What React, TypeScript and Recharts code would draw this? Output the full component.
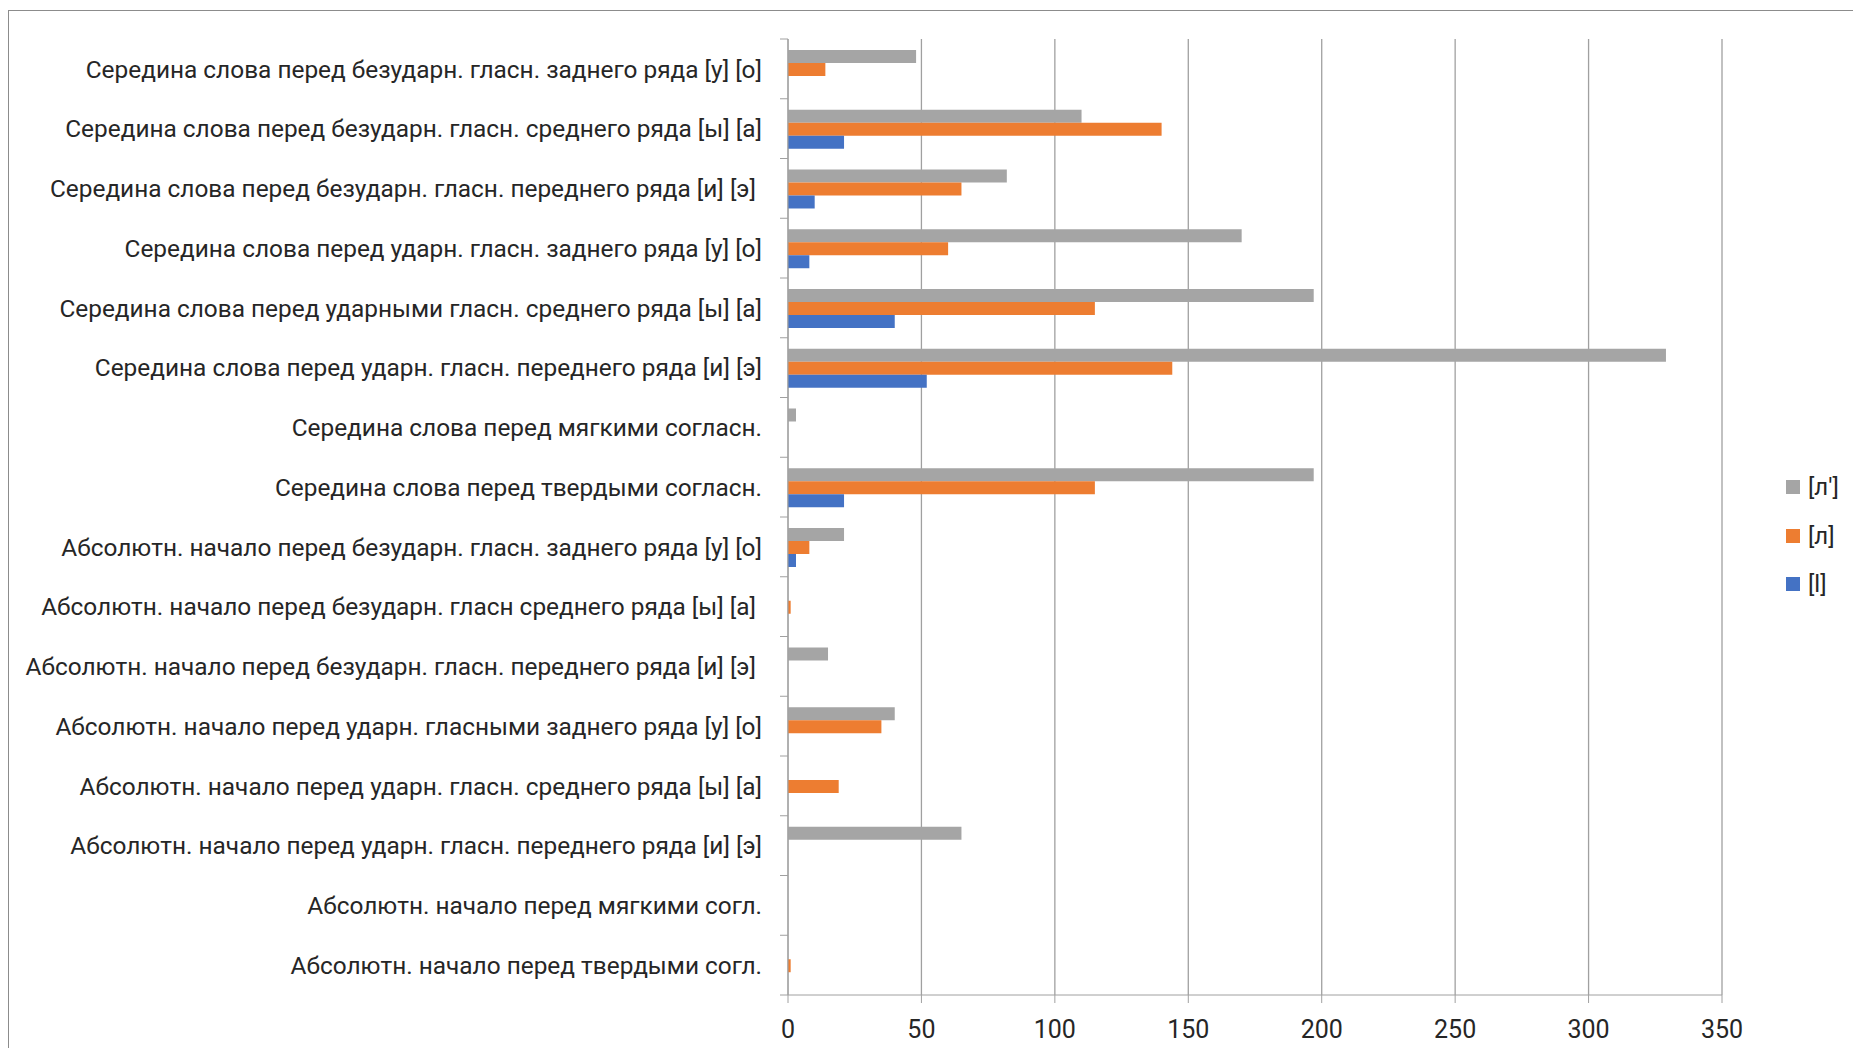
import * as React from "react";
import {
  BarChart,
  Bar,
  XAxis,
  YAxis,
  CartesianGrid,
  Legend,
} from "recharts";

// categories, top to bottom as drawn
const categories = [
  "Середина слова перед безударн. гласн. заднего ряда [у] [о]",
  "Середина слова перед безударн. гласн. среднего ряда [ы] [а]",
  "Середина слова перед безударн. гласн. переднего ряда [и] [э] ",
  "Середина слова перед ударн. гласн. заднего ряда [у] [о]",
  "Середина слова перед ударными гласн. среднего ряда [ы] [а]",
  "Середина слова перед ударн. гласн. переднего ряда [и] [э]",
  "Середина слова перед мягкими согласн.",
  "Середина слова перед твердыми согласн.",
  "Абсолютн. начало перед безударн. гласн. заднего ряда [у] [о]",
  "Абсолютн. начало перед безударн. гласн среднего ряда [ы] [а] ",
  "Абсолютн. начало перед безударн. гласн. переднего ряда [и] [э] ",
  "Абсолютн. начало перед ударн. гласными заднего ряда [у] [о]",
  "Абсолютн. начало перед ударн. гласн. среднего ряда [ы] [а]",
  "Абсолютн. начало перед ударн. гласн. переднего ряда [и] [э]",
  "Абсолютн. начало перед мягкими согл.",
  "Абсолютн. начало перед твердыми согл.",
];

const softL = [48, 110, 82, 170, 197, 329, 3, 197, 21, 0, 15, 40, 0, 65, 0, 0];
const hardL = [14, 140, 65, 60, 115, 144, 0, 115, 8, 1, 0, 35, 19, 0, 0, 1];
const latinL = [0, 21, 10, 8, 40, 52, 0, 21, 3, 0, 0, 0, 0, 0, 0, 0];

const xTicks = [0, 50, 100, 150, 200, 250, 300, 350];

const series = [
  { key: "soft", name: "[л']", color: "#a5a5a5" },
  { key: "hard", name: "[л]", color: "#ed7d31" },
  { key: "latin", name: "[l]", color: "#4472c4" },
];

const data = categories.map((name, i) => ({
  name,
  soft: softL[i],
  hard: hardL[i],
  latin: latinL[i],
}));

const FONT = "Roboto, 'Open Sans', sans-serif";
const TEXT = "#262626";
const LINE = "#a0a0a0";

const CategoryTick = (props: any) => {
  const { x, y, payload, index } = props;
  const half = payload?.offset || 29.9;
  return (
    <g>
      <line x1={x - 8} x2={x} y1={y - half} y2={y - half} stroke={LINE} />
      {index === categories.length - 1 && (
        <line x1={x - 8} x2={x} y1={y + half} y2={y + half} stroke={LINE} />
      )}
      <text
        x={x - 26}
        y={y}
        dy="0.36em"
        textAnchor="end"
        fill={TEXT}
        fontSize={24.4}
        fontFamily={FONT}
        style={{ whiteSpace: "pre" }}
      >
        {payload?.value}
      </text>
    </g>
  );
};

const ValueTick = (props: any) => {
  const { x, y, payload } = props;
  return (
    <text
      x={x}
      y={y}
      dy={35}
      textAnchor="middle"
      fill={TEXT}
      fontSize={25}
      fontFamily={FONT}
    >
      {payload?.value}
    </text>
  );
};

const LegendContent = () => (
  <div>
    {series.map((s) => (
      <div
        key={s.key}
        style={{
          display: "flex",
          alignItems: "center",
          height: 48.5,
          fontFamily: FONT,
          fontSize: 24,
          color: TEXT,
        }}
      >
        <span
          style={{
            display: "inline-block",
            width: 14,
            height: 14,
            background: s.color,
            marginRight: 8,
          }}
        />
        {s.name}
      </div>
    ))}
  </div>
);

export default function App() {
  return (
    <div
      style={{
        position: "relative",
        width: 1861,
        height: 1056,
        margin: -8,
        overflow: "hidden",
        background: "#fff",
      }}
    >
      <div
        style={{
          position: "absolute",
          left: 8,
          top: 10,
          width: 1900,
          height: 1100,
          border: "1.5px solid #8c8c8c",
        }}
      />
      <div style={{ position: "absolute", left: 0, top: 0 }}>
        <BarChart
          width={1861}
          height={1056}
          data={data}
          layout="vertical"
          margin={{ top: 39, right: 139, bottom: 11, left: 0 }}
          barCategoryGap="18.4%"
          barGap={0}
        >
          <CartesianGrid horizontal={false} stroke={LINE} strokeWidth={1.3} />
          <XAxis
            type="number"
            domain={[0, 350]}
            ticks={xTicks}
            height={50}
            stroke={LINE}
            tickSize={8}
            tickMargin={0}
            tick={<ValueTick />}
          />
          <YAxis
            type="category"
            dataKey="name"
            width={788}
            stroke={LINE}
            tickLine={false}
            tickSize={0}
            tickMargin={0}
            interval={0}
            tick={<CategoryTick />}
          />
          <Legend
            layout="vertical"
            align="center"
            verticalAlign="middle"
            content={<LegendContent />}
            wrapperStyle={{ left: 1786, top: 463, width: 75 }}
          />
          {series.map((s) => (
            <Bar
              key={s.key}
              dataKey={s.key}
              name={s.name}
              fill={s.color}
              isAnimationActive={false}
            />
          ))}
        </BarChart>
      </div>
    </div>
  );
}
